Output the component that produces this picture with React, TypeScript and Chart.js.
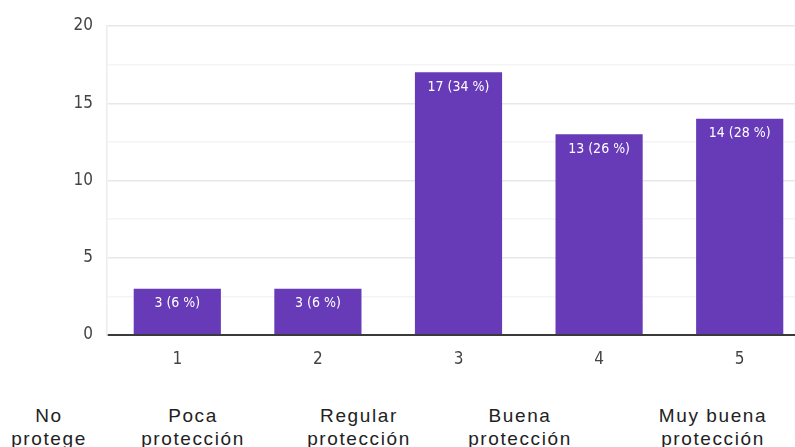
import React, { useEffect, useRef } from "react";
import { Chart, registerables } from "chart.js";

Chart.register(...registerables);

const categories = ["1", "2", "3", "4", "5"];
const counts = [3, 3, 17, 13, 14];
const percents = [6, 6, 34, 26, 28];
const yTicks = [0, 5, 10, 15, 20];
const bottomLabelsLine1 = ["No", "Poca", "Regular", "Buena", "Muy buena"];
const bottomLabelsLine2 = ["protege", "protección", "protección", "protección", "protección"];
const bottomLabelCenters = [49, 193, 359, 520, 713];

const NARROW = '"Liberation Sans Narrow", "Arial Narrow", "DejaVu Sans Condensed", sans-serif';

const valueLabelPlugin = {
  id: "valueLabels",
  afterDatasetsDraw(chart: any) {
    const ctx = chart.ctx;
    const meta = chart.getDatasetMeta(0);
    ctx.save();
    ctx.fillStyle = "#ffffff";
    ctx.font = `14px ${NARROW}`;
    ctx.textAlign = "center";
    ctx.textBaseline = "middle";
    meta.data.forEach((bar: any, i: number) => {
      ctx.fillText(`${counts[i]} (${percents[i]} %)`, bar.x, bar.y + 15);
    });
    ctx.restore();
  },
};

export default function App() {
  const ref = useRef<HTMLCanvasElement | null>(null);
  useEffect(() => {
    if (!ref.current) return;
    const chart = new Chart(ref.current, {
      type: "bar",
      data: {
        labels: categories,
        datasets: [
          {
            data: counts,
            backgroundColor: "#673ab7",
            borderWidth: 0,
            barPercentage: 0.62,
            categoryPercentage: 1,
          },
        ],
      },
      options: {
        responsive: false,
        animation: false,
        devicePixelRatio: 1,
        layout: { padding: { top: 26, left: 0, right: 0, bottom: 0 } },
        plugins: { legend: { display: false }, tooltip: { enabled: false } },
        scales: {
          x: {
            grid: { display: false, drawTicks: false },
            border: { display: false },
            ticks: {
              color: "#444",
              font: { family: NARROW, size: 17 },
              padding: 14,
            },
            afterFit(scale: any) {
              scale.height = 40;
            },
          },
          y: {
            min: 0,
            max: 20,
            afterBuildTicks(scale: any) {
              const t: any[] = [];
              for (let v = 0; v <= 20; v += 2.5) t.push({ value: v });
              scale.ticks = t;
            },
            ticks: {
              color: "#444",
              font: { family: NARROW, size: 17 },
              padding: 14,
              callback: (v: any) => (yTicks.includes(Number(v)) ? String(v) : ""),
            },
            grid: {
              drawTicks: false,
              color: (c: any) => {
                const v = c.tick ? c.tick.value : 0;
                if (v === 0) return "#3a3a3a";
                return v % 5 === 0 ? "#e8e8e8" : "#f4f4f4";
              },
              lineWidth: (c: any) => (c.tick && c.tick.value === 0 ? 2 : 1.5),
            },
            border: { display: true, color: "#ececec", width: 1.5 },
            afterFit(scale: any) {
              scale.width = 107;
            },
          },
        },
      },
      plugins: [valueLabelPlugin],
    });
    return () => chart.destroy();
  }, []);

  return (
    <div
      style={{
        position: "fixed",
        left: 0,
        top: 0,
        width: 795,
        height: 447,
        overflow: "hidden",
        background: "#ffffff",
      }}
    >
      <canvas ref={ref} width={810} height={375} style={{ position: "absolute", left: 0, top: 0 }} />
      {bottomLabelsLine1.map((l, i) => (
        <div
          key={i}
          style={{
            position: "absolute",
            left: bottomLabelCenters[i],
            top: 404,
            transform: "translateX(-50%)",
            fontFamily: '"Liberation Sans", Arial, sans-serif',
            fontSize: 19,
            lineHeight: "23px",
            letterSpacing: 1.6,
            color: "#222",
            textAlign: "center",
            whiteSpace: "nowrap",
          }}
        >
          <div>{l}</div>
          <div>{bottomLabelsLine2[i]}</div>
        </div>
      ))}
    </div>
  );
}
